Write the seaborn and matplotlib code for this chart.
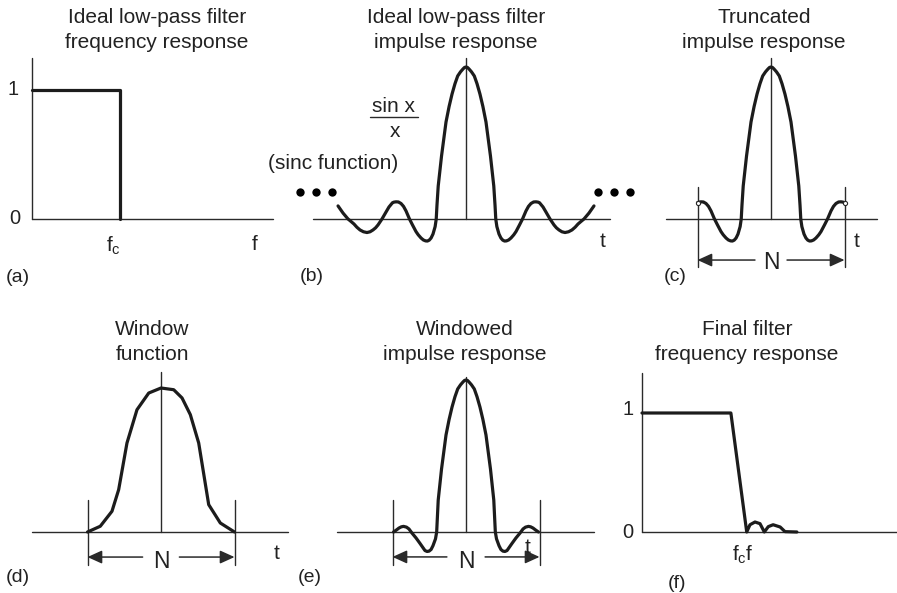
import numpy as np
import matplotlib.pyplot as plt
import seaborn as sns

# values (time in half-window units, amplitude normalised)
ideal_f = [0.0, 1.0, 1.0]
ideal_gain = [1.0, 1.0, 0.0]

sinc_t = [-1.741, -1.673, -1.605, -1.565, -1.524, -1.485, -1.442, -1.395, -1.347,
          -1.305, -1.265, -1.23, -1.197, -1.143, -1.088, -1.048, -1.0, -0.98,
          -0.952, -0.92, -0.884, -0.85, -0.816, -0.769, -0.728, -0.68, -0.65,
          -0.612, -0.58, -0.55, -0.525, -0.5, -0.475, -0.449, -0.42, -0.405,
          -0.395, -0.378, -0.333, -0.272, -0.23, -0.19, -0.15, -0.113, -0.075,
          -0.041, -0.02,
          0.0,
          0.02, 0.041, 0.075, 0.113, 0.15, 0.19, 0.23, 0.272, 0.333, 0.378,
          0.395, 0.405, 0.42, 0.449, 0.475, 0.5, 0.525, 0.55, 0.58, 0.612,
          0.65, 0.68, 0.728, 0.769, 0.816, 0.85, 0.884, 0.92, 0.952, 0.98,
          1.0, 1.048, 1.088, 1.143, 1.197, 1.23, 1.265, 1.305, 1.347, 1.395,
          1.442, 1.485, 1.524, 1.565, 1.605, 1.673, 1.741]
sinc_amp = [0.086, 0.039, 0.0, -0.016, -0.033, -0.054, -0.072, -0.084, -0.089,
            -0.084, -0.072, -0.058, -0.039, 0.0, 0.046, 0.079, 0.107, 0.111,
            0.113, 0.112, 0.102, 0.083, 0.053, 0.0, -0.039, -0.083, -0.104,
            -0.125, -0.138, -0.144, -0.145, -0.139, -0.125, -0.099, -0.05, 0.0,
            0.09, 0.217, 0.414, 0.638, 0.74, 0.822, 0.89, 0.941, 0.968,
            0.987, 0.997,
            1.0,
            0.997, 0.987, 0.968, 0.941, 0.89, 0.822, 0.74, 0.638, 0.414, 0.217,
            0.09, 0.0, -0.05, -0.099, -0.125, -0.139, -0.145, -0.144, -0.138, -0.125,
            -0.104, -0.083, -0.039, 0.0, 0.053, 0.083, 0.102, 0.112, 0.113, 0.111,
            0.107, 0.079, 0.046, 0.0, -0.039, -0.058, -0.072, -0.084, -0.089, -0.084,
            -0.072, -0.054, -0.033, -0.016, 0.0, 0.039, 0.086]

window_t = [-1.0, -0.826, -0.667, -0.576, -0.463, -0.327, -0.167, 0.0,
            0.173, 0.286, 0.399, 0.513, 0.649, 0.807, 1.0]
window_amp = [0.0, 0.04, 0.144, 0.294, 0.618, 0.849, 0.965, 1.0,
              0.988, 0.931, 0.815, 0.618, 0.19, 0.0625, 0.0]

windowed_t = [-0.986, -0.95, -0.912, -0.88, -0.85, -0.81, -0.776, -0.735, -0.68,
              -0.626, -0.59, -0.558, -0.53, -0.503, -0.475, -0.449, -0.415, -0.399,
              -0.39, -0.378, -0.333, -0.272, -0.23, -0.19, -0.15, -0.113, -0.075,
              -0.041, -0.02,
              0.0,
              0.02, 0.041, 0.075, 0.113, 0.15, 0.19, 0.23, 0.272, 0.333, 0.378,
              0.39, 0.399, 0.415, 0.449, 0.475, 0.503, 0.53, 0.558, 0.59, 0.626,
              0.68, 0.735, 0.776, 0.81, 0.85, 0.88, 0.912, 0.95, 0.986]
windowed_amp = [0.0, 0.012, 0.026, 0.034, 0.037, 0.032, 0.02, -0.007, -0.039,
                -0.075, -0.1, -0.122, -0.128, -0.126, -0.115, -0.09, -0.045, 0.0,
                0.09, 0.21, 0.414, 0.638, 0.74, 0.822, 0.89, 0.941, 0.968,
                0.987, 0.997,
                1.0,
                0.997, 0.987, 0.968, 0.941, 0.89, 0.822, 0.74, 0.638, 0.414, 0.21,
                0.09, 0.0, -0.045, -0.09, -0.115, -0.126, -0.128, -0.122, -0.1, -0.075,
                -0.039, -0.007, 0.02, 0.032, 0.037, 0.034, 0.026, 0.012, 0.0]

final_f = [0.0, 1.01, 1.19, 1.227, 1.284, 1.341, 1.39, 1.435, 1.49, 1.57, 1.625, 1.76]
final_gain = [1.0, 1.0, 0.0, 0.061, 0.084, 0.07, 0.0, 0.045, 0.061, 0.042, 0.003, 0.0]

titles = ["Ideal low-pass filter\nfrequency response",
          "Ideal low-pass filter\nimpulse response",
          "Truncated\nimpulse response",
          "Window\nfunction",
          "Windowed\nimpulse response",
          "Final filter\nfrequency response"]
tags = ["(a)", "(b)", "(c)", "(d)", "(e)", "(f)"]

sns.set_theme(style="white")
plt.rcParams['font.family'] = ['Liberation Sans', 'DejaVu Sans']
plt.rcParams['mathtext.default'] = 'regular'

W, H = 897, 593
fig = plt.figure(figsize=(W / 100, H / 100), dpi=100)
thick_c = '#1c1c1c'
thin_c = '#2a2a2a'
txt_c = '#222222'
thick_lw = 2.3
thin_lw = 1.0


def panel(ox, oy, sx, sy, xlim, ylim):
    # origin (ox, oy) in pixels, sx/sy pixels per data unit
    x0 = ox + xlim[0] * sx
    x1 = ox + xlim[1] * sx
    ytop = oy - ylim[1] * sy
    ybot = oy - ylim[0] * sy
    ax = fig.add_axes([x0 / W, 1 - ybot / H, (x1 - x0) / W, (ybot - ytop) / H])
    ax.set_xlim(xlim)
    ax.set_ylim(ylim)
    ax.set_axis_off()
    return ax


def title(cx, cy, s):
    fig.text(cx / W, 1 - cy / H, s, ha='center', va='center', fontsize=15,
             color=txt_c, linespacing=1.38)


def label(ax, x, y, s, size=15, ha='center'):
    ax.text(x, y, s, ha=ha, va='center', fontsize=size, color=txt_c, clip_on=False)


def thin(ax, xs, ys):
    ax.plot(xs, ys, color=thin_c, lw=thin_lw, clip_on=False)


def curve(ax, x, y):
    sns.lineplot(x=x, y=y, ax=ax, estimator=None, sort=False, color=thick_c,
                 lw=thick_lw, legend=False)
    for ln in ax.get_lines():
        ln.set_clip_on(False)
        ln.set_solid_joinstyle('round')


def span_arrow(ax, y, gap, ny):
    for a, b in [(-gap, -1.0), (gap, 1.0)]:
        ax.annotate('', xy=(b, y), xytext=(a, y), annotation_clip=False,
                    arrowprops=dict(arrowstyle='-|>,head_length=0.55,head_width=0.25',
                                    color=thin_c, lw=1.1, mutation_scale=16,
                                    shrinkA=0, shrinkB=0))
    label(ax, 0, ny, 'N', size=16.5)


# (a) ideal frequency response
ax = panel(32, 219, 88, 129, (-0.3, 2.8), (-0.5, 1.3))
thin(ax, [0, 0], [0, 1.248])
thin(ax, [0, 2.74], [0, 0])
curve(ax, ideal_f, ideal_gain)
label(ax, -0.216, 1.0, '1', 14.5)
label(ax, -0.193, 0.0, '0', 14.5)
label(ax, 0.93, -0.21, r'$f_c$', 15)
label(ax, 2.53, -0.2, 'f', 15)
label(ax, -0.16, -0.45, tags[0], 14)
title(157, 30, titles[0])

# (b) sinc impulse response
ax = panel(466, 219, 73.5, 152, (-2.8, 2.4), (-0.45, 1.1))
thin(ax, [-2.08, 1.96], [0, 0])
thin(ax, [0, 0], [0, 1.06])
curve(ax, sinc_t, sinc_amp)
dots_x = [-2.26, -2.04, -1.82, 1.80, 2.01, 2.23]
sns.scatterplot(x=dots_x, y=[0.178] * 6, ax=ax, s=36, color='black',
                linewidth=0, legend=False, clip_on=False)
thin(ax, [-1.306, -0.653], [0.671, 0.671])
label(ax, -0.98, 0.74, 'sin x', 15)
label(ax, -0.965, 0.575, 'x', 15)
label(ax, -1.81, 0.368, '(sinc function)', 15)
label(ax, 1.864, -0.151, 't', 15)
label(ax, -2.095, -0.38, tags[1], 14)
title(456, 30, titles[1])

# (c) truncated impulse response
ax = panel(771, 219, 73.5, 152, (-1.5, 1.5), (-0.45, 1.1))
thin(ax, [-1.43, 1.44], [0, 0])
thin(ax, [0, 0], [0, 1.06])
for b in (-1.0, 1.0):
    thin(ax, [b, b], [0.21, -0.316])
trunc = [(t, a) for t, a in zip(sinc_t, sinc_amp) if abs(t) <= 1.0]
curve(ax, [p[0] for p in trunc], [p[1] for p in trunc])
ax.plot([trunc[0][0], trunc[-1][0]], [trunc[0][1], trunc[-1][1]], 'o', ms=3,
        mfc='white', mec=thin_c, mew=0.8, clip_on=False)
span_arrow(ax, -0.27, 0.218, -0.283)
label(ax, 1.17, -0.151, 't', 15)
label(ax, -1.31, -0.38, tags[2], 14)
title(764, 30, titles[2])

# (d) window function
ax = panel(161, 532, 73.5, 144, (-2.0, 1.8), (-0.35, 1.15))
thin(ax, [-1.755, 1.728], [0, 0])
thin(ax, [0, 0], [0, 1.11])
for b in (-1.0, 1.0):
    thin(ax, [b, b], [0.222, -0.229])
curve(ax, window_t, window_amp)
span_arrow(ax, -0.174, 0.25, -0.208)
label(ax, 1.578, -0.146, 't', 15)
label(ax, -1.946, -0.3125, tags[3], 14)
title(152, 342, titles[3])

# (e) windowed impulse response
ax = panel(466, 532, 73.5, 152, (-2.2, 1.8), (-0.35, 1.1))
thin(ax, [-1.755, 1.741], [0, 0])
thin(ax, [0, 0], [0, 1.02])
for b in (-1.0, 1.0):
    thin(ax, [b, b], [0.21, -0.217])
curve(ax, windowed_t, windowed_amp)
span_arrow(ax, -0.164, 0.26, -0.197)
label(ax, 0.844, -0.105, 't', 15)
label(ax, -2.12, -0.30, tags[4], 14)
title(465, 342, titles[4])

# (f) final filter response
ax = panel(642, 532, 88, 119, (-0.3, 2.9), (-0.5, 1.4))
thin(ax, [0, 0], [0, 1.34])
thin(ax, [0, 2.9], [0, 0])
curve(ax, final_f, final_gain)
label(ax, -0.16, 1.03, '1', 14.5)
label(ax, -0.16, 0.0, '0', 14.5)
label(ax, 1.148, -0.193, r'$f_cf$', 15)
label(ax, 0.398, -0.43, tags[5], 14)
title(747, 342, titles[5])

fig.savefig('out.png', dpi=100)
